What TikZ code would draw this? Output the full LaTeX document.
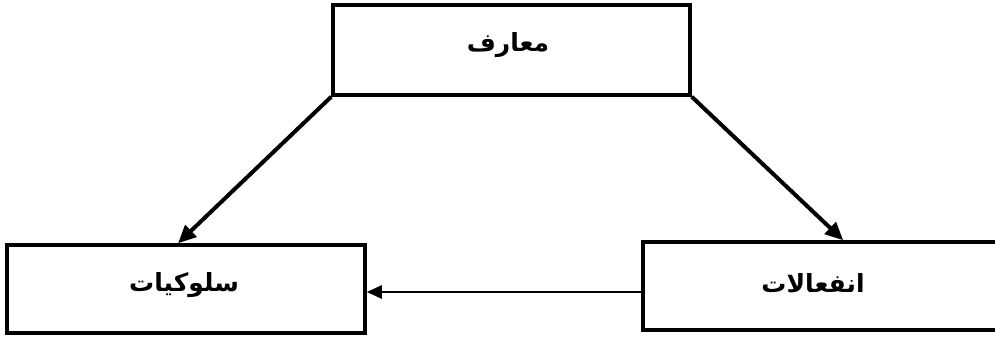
\documentclass[tikz,border=0pt]{standalone}
\usepackage{fontspec}
\newfontfamily\arabicfont[Script=Arabic]{DejaVu Sans}
\TeXXeTstate=1
\usetikzlibrary{arrows.meta,calc}
\begin{document}
\begin{tikzpicture}[x=1pt,y=-1pt,
  box/.style={draw=black,line width=3.5pt,fill=white,inner sep=0pt},
  lbl/.style={font=\arabicfont\bfseries\fontsize{25}{28}\selectfont,inner sep=0pt},
  bigarrow/.style={line width=4pt,-{Triangle[length=18pt,width=16pt]}},
  smallarrow/.style={line width=2.5pt,-{Triangle[length=15pt,width=13pt]}}]
\useasboundingbox (0,0) rectangle (995,338);
\fill[white] (0,0) rectangle (995,338);
\clip (0,0) rectangle (995,338);
\node[box,minimum width=357pt,minimum height=90pt] (m) at (511.5,50) {};
\node[lbl] (mt) at (508,45) {\beginR معارف\endR};
\node[box,minimum width=358pt,minimum height=88pt] (s) at (186,289) {};
\node[lbl] (st) at (184,285) {\beginR سلوكيات\endR};
\node[box,minimum width=367pt,minimum height=88pt] (e) at (826.5,286) {};
\node[lbl] (et) at (813,283) {\beginR انفعالات\endR};
\draw[bigarrow] (m.south west) -- ($(s.north west)!0.478!(s.north east)$);
\draw[bigarrow] (m.south east) -- ($(e.north west)!0.545!(e.north east)$);
\draw[smallarrow] (e.west |- 0,292) -- (s.east |- 0,292);
\end{tikzpicture}
\end{document}
